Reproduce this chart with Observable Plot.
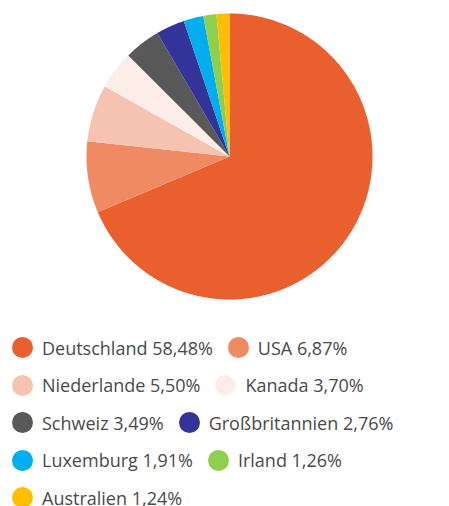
<!DOCTYPE html>
<html><head><meta charset="utf-8">
<script src="https://cdn.jsdelivr.net/npm/d3@7"></script>
<script src="https://cdn.jsdelivr.net/npm/@observablehq/plot@0.6"></script>
<style>
body{margin:0;background:#fff;font-family:"Open Sans",sans-serif;}
#legend{display:flex;flex-wrap:wrap;padding-left:12px;margin-top:29px;width:437px;}
.item{display:flex;align-items:center;height:37.5px;margin-right:15px;color:#4a4a4a;font-size:18px;white-space:nowrap;}
.sw{width:21px;height:21px;border-radius:50%;margin-right:9px;flex:none;}
</style></head><body>
<div id="chart"></div><div id="legend"></div>
<script>
const countries = ["Deutschland","USA","Niederlande","Kanada","Schweiz","Großbritannien","Luxemburg","Irland","Australien"];
const shares = [58.48,6.87,5.50,3.70,3.49,2.76,1.91,1.26,1.24];
const labels = ["58,48%","6,87%","5,50%","3,70%","3,49%","2,76%","1,91%","1,26%","1,24%"];
const colors = ["#EA5F2E","#EF8A63","#F7C3B1","#FCEDE8","#595959","#33339A","#00AEEF","#8FCF4F","#FFBF00"];

const total = d3.sum(shares);
const pts = [];
let acc = 0;
countries.forEach((c,i)=>{
  const a0 = acc/total*2*Math.PI; acc += shares[i]; const a1 = acc/total*2*Math.PI;
  pts.push({c, x:0, y:0});
  const n = Math.max(2, Math.ceil((a1-a0)/0.01));
  for(let k=0;k<=n;k++){const a=a0+(a1-a0)*k/n; pts.push({c, x:Math.sin(a), y:Math.cos(a)});}
});

const plot = Plot.plot({
  width:449, height:300, marginLeft:86, marginRight:77, marginTop:13, marginBottom:1,
  x:{domain:[-1,1], axis:null}, y:{domain:[-1,1], axis:null},
  color:{domain:countries, range:colors},
  marks:[Plot.line(pts,{x:"x",y:"y",z:"c",fill:"c",stroke:"none"})]
});
document.getElementById("chart").append(plot);
const lg = document.getElementById("legend");
countries.forEach((c,i)=>{
  const it=document.createElement("div");it.className="item";
  it.innerHTML=`<span class="sw" style="background:${colors[i]}"></span><span>${c} ${labels[i]}</span>`;
  lg.append(it);
});
</script></body></html>
